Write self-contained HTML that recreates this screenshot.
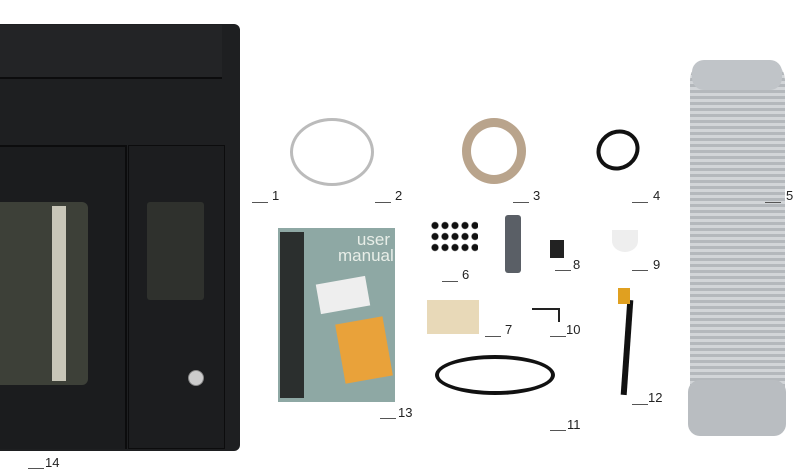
<!DOCTYPE html><html><head><style>
body{margin:0;width:800px;height:476px;background:#fff;position:relative;overflow:hidden;font-family:"Liberation Sans",sans-serif}
.a{position:absolute}
.n{position:absolute;font-size:13px;color:#222}
.l{position:absolute;height:1px;background:#555;width:16px}
</style></head><body>
<!-- machine -->
<div class="a" style="left:0;top:24px;width:240px;height:427px;background:#1e1f21;border-radius:0 6px 6px 0"></div>
<div class="a" style="left:0;top:25px;width:222px;height:52px;background:#232426;border-bottom:2px solid #0c0c0d"></div>
<div class="a" style="left:0;top:145px;width:125px;height:302px;background:#1b1c1e;border-top:2px solid #0c0c0d;border-right:2px solid #0c0c0d"></div>
<div class="a" style="left:128px;top:145px;width:95px;height:302px;background:#1c1d1f;border:1px solid #0c0c0d"></div>
<div class="a" style="left:0;top:202px;width:88px;height:183px;background:#3d4038;border-radius:0 6px 6px 0"></div>
<div class="a" style="left:52px;top:206px;width:14px;height:175px;background:#c8c6b8"></div>
<div class="a" style="left:147px;top:202px;width:57px;height:98px;background:#2f312d;border-radius:3px"></div>
<div class="a" style="left:188px;top:370px;width:14px;height:14px;border-radius:50%;background:#ccc;border:1px solid #888"></div>
<!-- hose -->
<div class="a" style="left:690px;top:60px;width:95px;height:376px;background:repeating-linear-gradient(180deg,#b4b8bc 0 3px,#d2d5d8 3px 6px);border-radius:20px"></div>
<div class="a" style="left:688px;top:380px;width:98px;height:56px;background:#b9bdc1;border-radius:12px"></div>
<div class="a" style="left:692px;top:60px;width:90px;height:30px;background:#c0c4c8;border-radius:12px"></div>
<!-- clamp -->
<div class="a" style="left:290px;top:118px;width:78px;height:62px;border:3px solid #bbb;border-radius:50%"></div>
<!-- tape -->
<div class="a" style="left:462px;top:118px;width:64px;height:66px;border:9px solid #b9a48c;border-radius:50%;box-sizing:border-box"></div>
<!-- cable 4 -->
<div class="a" style="left:596px;top:130px;width:44px;height:40px;border:4px solid #111;border-radius:50%;box-sizing:border-box;transform:rotate(-30deg)"></div>
<!-- manual -->
<div class="a" style="left:278px;top:228px;width:117px;height:174px;background:#8ea8a4"></div>
<div class="a" style="left:280px;top:232px;width:24px;height:166px;background:#1a1a1a;opacity:.85"></div>
<div class="a" style="left:340px;top:320px;width:48px;height:60px;background:#e9a23a;transform:rotate(-10deg)"></div>
<div class="a" style="left:318px;top:280px;width:50px;height:30px;background:#eee;transform:rotate(-10deg)"></div>
<div class="a" style="left:338px;top:232px;color:#e8eee8;font-size:17px;line-height:16px;text-align:right;width:52px">user manual</div>
<!-- small parts -->
<div class="a" style="left:430px;top:220px;width:48px;height:34px;background:radial-gradient(circle,#111 3px,transparent 4px) 0 0/10px 11px"></div>
<div class="a" style="left:505px;top:215px;width:16px;height:58px;background:#5a5f66;border-radius:3px"></div>
<div class="a" style="left:550px;top:240px;width:14px;height:18px;background:#222"></div>
<div class="a" style="left:427px;top:300px;width:52px;height:34px;background:#e8d9b8"></div>
<div class="a" style="left:612px;top:230px;width:26px;height:22px;border-radius:0 0 50% 50%;background:#eee"></div>
<div class="a" style="left:624px;top:300px;width:6px;height:95px;background:#111;transform:rotate(4deg)"></div>
<div class="a" style="left:618px;top:288px;width:12px;height:16px;background:#e0a020"></div>
<div class="a" style="left:435px;top:355px;width:120px;height:40px;border:4px solid #111;border-radius:50%;box-sizing:border-box"></div>
<div class="a" style="left:532px;top:308px;width:26px;height:12px;border:2px solid #222;border-left:none;border-bottom:none"></div>
<!-- labels -->
<div class="l" style="left:252px;top:202px"></div><div class="n" style="left:272px;top:188px">1</div>
<div class="l" style="left:375px;top:202px"></div><div class="n" style="left:395px;top:188px">2</div>
<div class="l" style="left:513px;top:202px"></div><div class="n" style="left:533px;top:188px">3</div>
<div class="l" style="left:632px;top:202px"></div><div class="n" style="left:653px;top:188px">4</div>
<div class="l" style="left:765px;top:202px"></div><div class="n" style="left:786px;top:188px">5</div>
<div class="l" style="left:442px;top:281px"></div><div class="n" style="left:462px;top:267px">6</div>
<div class="l" style="left:555px;top:270px"></div><div class="n" style="left:573px;top:257px">8</div>
<div class="l" style="left:632px;top:270px"></div><div class="n" style="left:653px;top:257px">9</div>
<div class="l" style="left:485px;top:336px"></div><div class="n" style="left:505px;top:322px">7</div>
<div class="l" style="left:550px;top:336px"></div><div class="n" style="left:566px;top:322px">10</div>
<div class="l" style="left:632px;top:404px"></div><div class="n" style="left:648px;top:390px">12</div>
<div class="l" style="left:380px;top:418px"></div><div class="n" style="left:398px;top:405px">13</div>
<div class="l" style="left:550px;top:430px"></div><div class="n" style="left:567px;top:417px">11</div>
<div class="l" style="left:28px;top:468px"></div><div class="n" style="left:45px;top:455px">14</div>
</body></html>
